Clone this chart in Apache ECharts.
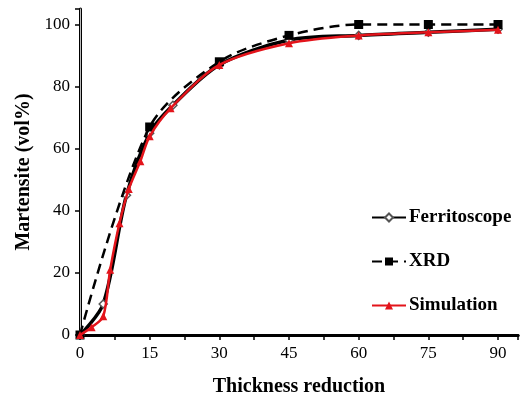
<!DOCTYPE html>
<html>
<head>
<meta charset="utf-8">
<script src="https://cdn.jsdelivr.net/npm/echarts@6/dist/echarts.min.js"></script>
<style>
  html, body { margin: 0; padding: 0; background: #fff; }
  #chart { width: 521px; height: 403px; }
</style>
</head>
<body>
<div id="chart"></div>
<script>
// data: [thickness reduction, martensite vol%]
var ferritoscope = [[0, 0], [5, 10], [10, 45], [15, 65], [20, 74], [30, 87], [45, 95], [60, 96.5], [75, 97.5], [90, 98.5]];
var xrd = [[0, 0], [15, 67], [30, 88], [45, 96.5], [60, 100], [75, 100], [90, 100]];
var simulation = [[0, 0], [2.5, 2.5], [5, 6], [6.5, 21], [8.5, 36], [10.5, 47], [13, 56], [15, 64], [19.5, 73], [30, 87], [45, 94], [60, 96.5], [75, 97.5], [90, 98.3]];
var xLabels = [0, 15, 30, 45, 60, 75, 90];
var yLabels = [0, 20, 40, 60, 80, 100];

var font = '"Liberation Serif", "Times New Roman", serif';
var chart = echarts.init(document.getElementById('chart'));

var option = {
    animation: false,
    backgroundColor: '#fff',
    grid: { left: 80, top: 9, right: 1, bottom: 68 },
    legend: {
        orient: 'vertical',
        left: 366,
        top: 203,
        itemGap: 25,
        itemWidth: 34,
        itemHeight: 10,
        textStyle: { fontFamily: font, fontWeight: 'bold', fontSize: 19, color: '#000', padding: [0, 0, 0, -2] },
        data: ['Ferritoscope', 'XRD', 'Simulation']
    },
    xAxis: [{
        type: 'value',
        min: 0,
        max: 94.3,
        interval: 7.5,
        name: 'Thickness reduction',
        nameLocation: 'middle',
        nameGap: 42,
        nameTextStyle: { fontFamily: font, fontWeight: 'bold', fontSize: 20, color: '#000' },
        axisLine: { lineStyle: { color: '#000', width: 3 } },
        axisTick: { show: true, inside: false, length: 5, lineStyle: { color: '#000', width: 1.5 } },
        axisLabel: {
            fontFamily: font, fontSize: 17, color: '#000', margin: 10,
            formatter: function (v) { return xLabels.indexOf(v) >= 0 ? String(v) : ''; }
        },
        splitLine: { show: false }
    }, {
        type: 'value',
        position: 'top',
        min: 0,
        max: 94.3,
        axisLine: { lineStyle: { color: '#000', width: 3 } },
        axisTick: { show: false },
        axisLabel: { show: false },
        splitLine: { show: false }
    }],
    yAxis: [{
        type: 'value',
        min: 0,
        max: 105,
        interval: 20,
        name: 'Martensite (vol%)',
        nameLocation: 'middle',
        nameGap: 46,
        nameTextStyle: { fontFamily: font, fontWeight: 'bold', fontSize: 20, color: '#000' },
        axisLine: { lineStyle: { color: '#000', width: 3 } },
        axisTick: { show: true, inside: false, length: 5, lineStyle: { color: '#000', width: 1.5 } },
        axisLabel: {
            fontFamily: font, fontSize: 17, color: '#000', margin: 10,
            formatter: function (v) { return yLabels.indexOf(v) >= 0 ? String(v) : ''; }
        },
        splitLine: { show: false }
    }, {
        type: 'value',
        position: 'right',
        min: 0,
        max: 105,
        axisLine: { show: true, lineStyle: { color: '#bbb', width: 1 } },
        axisTick: { show: false },
        axisLabel: { show: false },
        splitLine: { show: false }
    }],
    series: [{
        name: 'Ferritoscope',
        type: 'line',
        smooth: 0.3,
        data: ferritoscope,
        symbol: 'diamond',
        symbolSize: 8,
        itemStyle: { color: '#fff', borderColor: '#555', borderWidth: 1.5 },
        lineStyle: { color: '#000', width: 3.5 },
        z: 2
    }, {
        name: 'XRD',
        type: 'line',
        smooth: 0.3,
        data: xrd,
        symbol: 'rect',
        symbolSize: 9,
        itemStyle: { color: '#000' },
        lineStyle: { color: '#000', width: 2.5, type: [10, 6] },
        z: 3
    }, {
        name: 'Simulation',
        type: 'line',
        smooth: 0.3,
        data: simulation,
        symbol: 'triangle',
        symbolSize: 8,
        itemStyle: { color: '#e3141b' },
        lineStyle: { color: '#e3141b', width: 2.5 },
        z: 4
    }]
};
chart.setOption(option);
</script>
</body>
</html>
